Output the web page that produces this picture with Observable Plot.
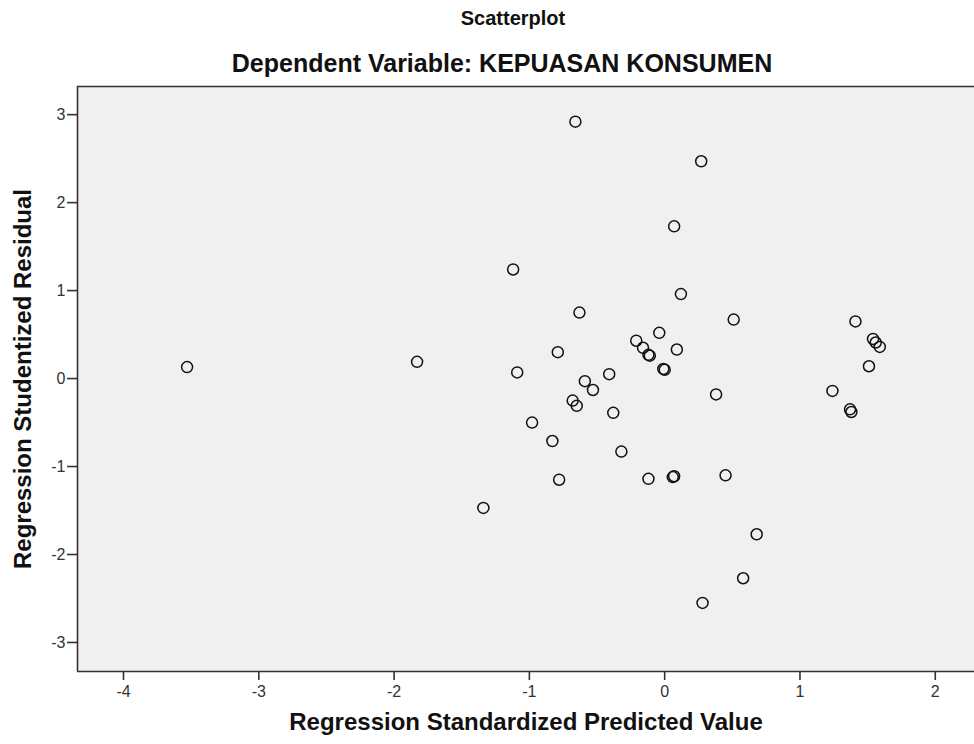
<!DOCTYPE html>
<html>
<head>
<meta charset="utf-8">
<script src="https://cdn.jsdelivr.net/npm/d3@7"></script>
<script src="https://cdn.jsdelivr.net/npm/@observablehq/plot@0.6"></script>
<style>
  html, body { margin: 0; padding: 0; background: #ffffff; }
  body { width: 974px; height: 744px; overflow: hidden; font-family: "Liberation Sans", Arial, sans-serif; }
  #head { position: relative; width: 974px; height: 80px; }
  #title { position: absolute; left: 0; width: 1026px; top: 7px; text-align: center; font-size: 20px; font-weight: bold; color: #111; }
  #subtitle { position: absolute; left: 0; width: 1004px; top: 49px; text-align: center; font-size: 25px; font-weight: bold; color: #111; }
</style>
</head>
<body>
<div id="head">
  <div id="title">Scatterplot</div>
  <div id="subtitle">Dependent Variable: KEPUASAN KONSUMEN</div>
</div>
<div id="chart"></div>
<script>
// Regression Standardized Predicted Value (x) and Regression Studentized Residual (y)
const predicted = [-3.53, -1.83, -1.34, -1.12, -1.09, -0.98, -0.83, -0.79, -0.78, -0.68,
  -0.66, -0.65, -0.63, -0.59, -0.53, -0.41, -0.38, -0.32, -0.21, -0.16,
  -0.12, -0.11, -0.12, -0.04, -0.01, 0.00, 0.07, 0.06, 0.07, 0.09,
  0.12, 0.27, 0.28, 0.38, 0.45, 0.51, 0.58, 0.68, 1.24, 1.37,
  1.38, 1.41, 1.51, 1.54, 1.56, 1.59];
const residual = [0.13, 0.19, -1.47, 1.24, 0.07, -0.50, -0.71, 0.30, -1.15, -0.25,
  2.92, -0.31, 0.75, -0.03, -0.13, 0.05, -0.39, -0.83, 0.43, 0.35,
  0.27, 0.26, -1.14, 0.52, 0.11, 0.10, -1.11, -1.12, 1.73, 0.33,
  0.96, 2.47, -2.55, -0.18, -1.10, 0.67, -2.27, -1.77, -0.14, -0.35,
  -0.38, 0.65, 0.14, 0.45, 0.41, 0.36];
const xTicks = [-4, -3, -2, -1, 0, 1, 2];
const yTicks = [-3, -2, -1, 0, 1, 2, 3];
const xDomain = [-4.34, 2.29];
const yDomain = [-3.33, 3.32];
const xLabel = "Regression Standardized Predicted Value";
const yLabel = "Regression Studentized Residual";

const points = predicted.map((p, i) => ({x: p, y: residual[i]}));

const chart = Plot.plot({
  width: 974,
  height: 664,
  marginTop: 6,
  marginBottom: 73,
  marginLeft: 77,
  marginRight: 0,
  style: {fontFamily: "'Liberation Sans', Arial, sans-serif", fontSize: "16px", color: "#333", background: "#ffffff"},
  x: {domain: xDomain, ticks: xTicks, tickSize: 9, tickPadding: 5, label: null, tickFormat: d => String(d)},
  y: {domain: yDomain, ticks: yTicks, tickSize: 10, tickPadding: 2, label: null, tickFormat: d => String(d)},
  marks: [
    Plot.frame({fill: "#f0f0f0", stroke: null}),
    Plot.ruleY([yDomain[1]], {stroke: "#333", strokeWidth: 1.6}),
    Plot.ruleY([yDomain[0]], {stroke: "#333", strokeWidth: 1.6}),
    Plot.ruleX([xDomain[0]], {stroke: "#333", strokeWidth: 1.6}),
    Plot.dot(points, {x: "x", y: "y", r: 5.5, stroke: "#111", strokeWidth: 1.5, fill: "none"}),
    Plot.text([xLabel], {frameAnchor: "bottom", dy: 51, text: d => d, fontSize: 24, fontWeight: "bold", fill: "#111", lineAnchor: "middle", textAnchor: "middle"}),
    Plot.text([yLabel], {frameAnchor: "left", dx: -54, text: d => d, rotate: -90, fontSize: 24, fontWeight: "bold", fill: "#111", lineAnchor: "middle", textAnchor: "middle"})
  ]
});
chart.querySelectorAll('[aria-label="x-axis tick"] path, [aria-label="y-axis tick"] path').forEach(p => {
  p.setAttribute("stroke-width", "1.6");
});
document.getElementById("chart").appendChild(chart);
</script>
</body>
</html>
